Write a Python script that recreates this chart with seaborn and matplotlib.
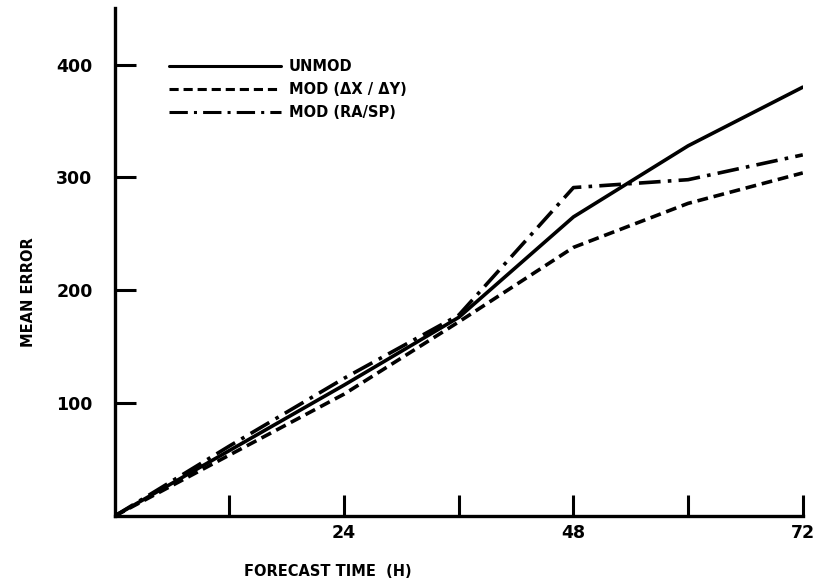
import numpy as np
import pandas as pd
import matplotlib
matplotlib.use("Agg")
import matplotlib.pyplot as plt
import seaborn as sns

# forecast hours and mean errors
hours = [0, 12, 24, 36, 48, 60, 72]
unmod = [0, 58, 116, 176, 265, 328, 380]
mod_dxdy = [0, 54, 108, 172, 238, 277, 304]
mod_rasp = [0, 62, 122, 178, 291, 298, 320]
names = ["UNMOD", "MOD (\u0394X / \u0394Y)", "MOD (RA/SP)"]

df = pd.concat([
    pd.DataFrame({"hour": hours, "err": unmod, "run": names[0]}),
    pd.DataFrame({"hour": hours, "err": mod_dxdy, "run": names[1]}),
    pd.DataFrame({"hour": hours, "err": mod_rasp, "run": names[2]}),
])

sns.set_style("white", {"xtick.bottom": True, "ytick.left": True,
                        "text.color": "black", "axes.labelcolor": "black",
                        "xtick.color": "black", "ytick.color": "black"})
plt.rcParams['font.family'] = ['DejaVu Sans']
plt.rcParams['font.weight'] = 'bold'

fig = plt.figure(figsize=(8.2, 5.83), dpi=100)
ax = fig.add_axes([0.140, 0.115, 0.839, 0.871])

dashes = {names[0]: "", names[1]: (3, 1.6), names[2]: (6, 2, 1, 2)}
sns.lineplot(data=df, x="hour", y="err", style="run", dashes=dashes,
             color="black", linewidth=2.6, ax=ax, legend=True)

ax.set_xlim(0, 72)
ax.set_ylim(0, 450)
ax.set_xticks([12, 24, 36, 48, 60, 72])
ax.set_xticklabels(["", "24", "", "48", "", "72"])
ax.set_yticks([100, 200, 300, 400])
ax.tick_params(axis="both", direction="in", length=15, width=2.2,
               labelsize=12.5, color="black", labelcolor="black",
               bottom=True, left=True)
ax.tick_params(axis="x", pad=6)
ax.tick_params(axis="y", pad=16)
for lab in ax.get_xticklabels() + ax.get_yticklabels():
    lab.set_fontweight("bold")

sns.despine(ax=ax)
for s in ["left", "bottom"]:
    ax.spines[s].set_linewidth(2.4)
    ax.spines[s].set_color("black")

ax.set_xlabel("FORECAST TIME  (H)", fontsize=10.5, fontweight="bold", color="black")
ax.xaxis.set_label_coords(0.31, -0.095)
ax.set_ylabel("MEAN ERROR", fontsize=10.5, fontweight="bold", color="black")
ax.yaxis.set_label_coords(-0.115, 0.44)

leg = ax.legend(loc="upper left", bbox_to_anchor=(0.06, 0.925), frameon=False,
                handlelength=7.7, handletextpad=0.5, fontsize=10.5,
                labelspacing=0.55)
for t in leg.get_texts():
    t.set_fontweight("bold")
    t.set_color("black")
for h in leg.get_lines():
    h.set_linewidth(2.2)

fig.savefig("out.png", dpi=100)
